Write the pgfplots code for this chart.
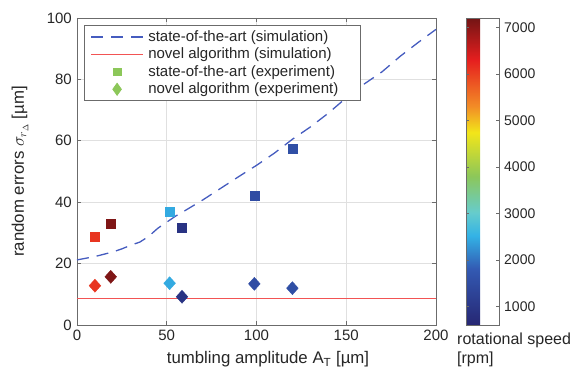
\documentclass[border=0pt]{standalone}
\usepackage{fontspec}
\setmainfont{Liberation Sans}
\usepackage{pgfplots}
\usepackage{pgfplotstable}
\pgfplotsset{compat=1.18}
\definecolor{simblue}{rgb}{0.27,0.36,0.75}
\definecolor{novelred}{rgb}{0.95,0.33,0.33}
\definecolor{leggreen}{rgb}{0.55,0.78,0.35}
\definecolor{gridgray}{rgb}{0.88,0.88,0.88}
\definecolor{boxgray}{rgb}{0.42,0.42,0.42}
\definecolor{txt}{rgb}{0.15,0.15,0.15}

\pgfplotsset{
  longline legend/.style={legend image code/.code={\draw[##1] (0pt,0pt) -- (52pt,0pt);}},
  mark legend/.style={legend image code/.code={\draw[mark repeat=2,mark phase=2,##1] plot coordinates {(0pt,0pt) (26pt,0pt) (52pt,0pt)};}},
}

\pgfplotstableread{
x y
0 21.2
10 22.3
20 23.8
25 24.8
30 26.0
35 27.0
40 28.9
45 31.5
50 33.5
55 35.5
60 37.2
70 40.7
80 44.5
90 48.3
100 52.0
110 56.0
120 60.5
130 64.5
140 69.0
150 74.0
160 78.5
170 82.5
180 87.5
190 92.0
200 96.3
}\simsota

\pgfplotstableread{
x y
0 8.6
200 8.6
}\simnovel

\pgfplotstableread{
x y rpm
10 28.7 6100
18.8 32.9 7100
51.6 36.8 2450
58.5 31.7 900
98.8 42.1 1500
120 57.3 1550
}\expsota

\pgfplotstableread{
x y rpm
10 12.8 6100
18.8 15.7 7100
51.6 13.6 2450
58.5 9.2 900
98.8 13.4 1500
120 12.0 1550
}\expnovel

\begin{document}
\fontsize{15}{18}\selectfont
\begin{tikzpicture}
\begin{axis}[
  at={(0pt,0pt)}, anchor=south west,
  scale only axis, width=359pt, height=307pt,
  xmin=0, xmax=200, ymin=0, ymax=100,
  xtick={0,50,...,200}, ytick={0,20,...,100},
  tick pos=both, ticklabel pos=left,
  tick align=inside, major tick length=4pt,
  grid=major, grid style={gridgray, line width=0.6pt},
  axis line style={boxgray, line width=0.8pt},
  tick style={boxgray, line width=0.6pt},
  ticklabel style={font=\fontsize{15}{18}\selectfont, text=txt},
  label style={font=\fontsize{16.8}{20}\selectfont, text=txt},
  /pgf/number format/assume math mode=true,
  /pgf/number format/1000 sep={},
  xlabel={tumbling amplitude A\textsubscript{T} [µm]},
  ylabel={random errors $\sigma_{r_{\Delta}}$ [µm]},
  xlabel style={at={(axis description cs:0.532,-0.1254)}, anchor=base},
  ylabel style={at={(axis description cs:-0.1588,0.5)}, anchor=center},
  clip=false,
  colormap={rpmmap}{rgb(60pt)=(0.15,0.15,0.45); rgb(180pt)=(0.2,0.35,0.7); rgb(252pt)=(0.2,0.7,0.9); rgb(302pt)=(0.4,0.8,0.8); rgb(380pt)=(0.55,0.78,0.35); rgb(474pt)=(0.95,0.9,0.1); rgb(530pt)=(0.95,0.55,0.15); rgb(630pt)=(0.9,0.12,0.12); rgb(720pt)=(0.45,0.08,0.08)},
  point meta min=600, point meta max=7200,
  colorbar,
  colorbar style={
    at={(1.0836,0)}, anchor=south west,
    width=33pt, height=307pt,
    ytick={1000,2000,...,7000},
    scaled y ticks=false,
    yticklabel pos=right,
    tick align=inside,
    major tick length=3pt,
    axis line style={boxgray, line width=0.8pt},
    tick style={boxgray, line width=0.6pt},
    yticklabel style={font=\fontsize{14}{17}\selectfont, text=txt, /pgf/number format/assume math mode=true, /pgf/number format/1000 sep={}},
  },
  legend style={at={(0.0195,0.977)}, anchor=north west, draw=boxgray, line width=0.8pt,
    font=\fontsize{15}{18}\selectfont, text=txt, inner xsep=6pt, inner ysep=3pt, row sep=0.3pt,
    /tikz/every odd column/.append style={column sep=2.5pt}},
  legend cell align=left,
]
\addlegendimage{simblue, line width=1.3pt, dash pattern=on 12pt off 8pt, longline legend}
\addlegendentry{state-of-the-art (simulation)}
\addlegendimage{novelred, line width=1.4pt, longline legend}
\addlegendentry{novel algorithm (simulation)}
\addlegendimage{only marks, mark=square*, mark size=3.8pt, color=leggreen, mark legend}
\addlegendentry{state-of-the-art (experiment)}
\addlegendimage{only marks, mark=diamond*, mark size=6pt, mark options={xscale=0.95}, color=leggreen, mark legend}
\addlegendentry{novel algorithm (experiment)\hspace*{14pt}}

\addplot[color=simblue, line width=1.3pt, dash pattern=on 12pt off 8pt, forget plot] table[x=x,y=y] {\simsota};
\addplot[color=novelred, draw=novelred, line width=1.5pt, forget plot] table[x=x,y=y] {\simnovel};
\addplot[scatter, only marks, mark=square*, mark size=4.6pt, point meta=explicit, forget plot,
  scatter/use mapped color={draw=mapped color, fill=mapped color}] table[x=x,y=y,meta=rpm] {\expsota};
\addplot[scatter, only marks, mark=diamond*, mark size=6.5pt, mark options={xscale=1.2}, point meta=explicit, forget plot,
  scatter/use mapped color={draw=mapped color, fill=mapped color}] table[x=x,y=y,meta=rpm] {\expnovel};

\node[anchor=base west, inner sep=0pt, text=txt, font=\fontsize{16}{19}\selectfont]
  at (rel axis cs:1.0585,-0.0651) {rotational speed};
\node[anchor=base west, inner sep=0pt, text=txt, font=\fontsize{16}{19}\selectfont]
  at (rel axis cs:1.0585,-0.127) {[rpm]};
\end{axis}
\pgfresetboundingbox
\path[use as bounding box] (-77pt,-44pt) rectangle (494pt,325pt);
\end{tikzpicture}
\end{document}
